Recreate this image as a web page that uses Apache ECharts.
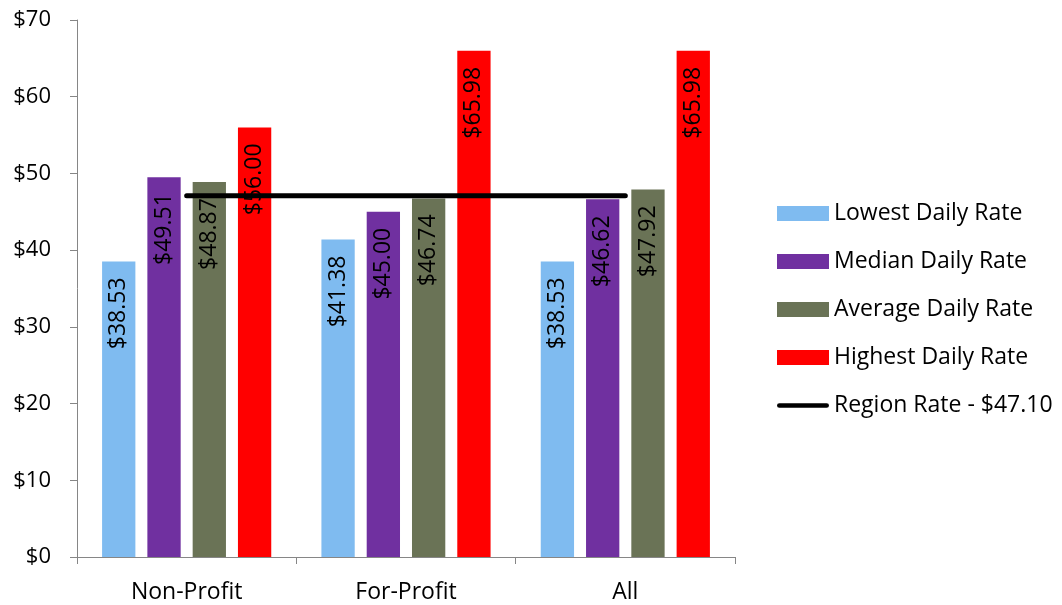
<!DOCTYPE html>
<html>
<head>
<meta charset="utf-8">
<script src="https://cdn.jsdelivr.net/npm/echarts@6/dist/echarts.min.js"></script>
<style>
  html, body { margin: 0; padding: 0; background: #fff; }
  #chart { width: 1062px; height: 605px; }
</style>
</head>
<body>
<div id="chart"></div>
<script>
// Daily rates by facility type
const categories = ['Non-Profit', 'For-Profit', 'All'];
const lowestRate  = [38.53, 41.38, 38.53];
const medianRate  = [49.51, 45.00, 46.62];
const averageRate = [48.87, 46.74, 47.92];
const highestRate = [56.00, 65.98, 65.98];
const regionRate  = [47.10, 47.10, 47.10];
const regionLabel = 'Region Rate - $47.10';

const FONT = '"Open Sans", "Liberation Sans", sans-serif';
const money = v => '$' + Number(v).toFixed(2);

// thick rounded stroke used as the legend marker of the region line
const LINE_ICON = 'path://M2.5,0 L52.5,0 A2.5,2.5 0 0 1 52.5,5 L2.5,5 A2.5,2.5 0 0 1 2.5,0 Z';

function barSeries(name, data, color) {
  return {
    name: name,
    type: 'bar',
    data: data,
    barWidth: 33.3,
    barGap: '36%',
    z: 2,
    itemStyle: { color: color },
    label: {
      show: true,
      position: 'insideTop',
      distance: 16,
      rotate: 90,
      align: 'right',
      verticalAlign: 'middle',
      color: '#000',
      fontFamily: FONT,
      fontSize: 23,
      formatter: p => money(p.value)
    }
  };
}

const chart = echarts.init(document.getElementById('chart'), null, { renderer: 'canvas' });
chart.setOption({
  animation: false,
  backgroundColor: '#fff',
  textStyle: { fontFamily: FONT },
  grid: { left: 77, right: 327, top: 20, bottom: 48 },
  legend: {
    orient: 'vertical',
    left: 772,
    top: 197,
    itemWidth: 52,
    itemHeight: 15,
    itemGap: 25,
    textStyle: { fontFamily: FONT, fontSize: 23, color: '#000', lineHeight: 23 },
    data: [
      { name: 'Lowest Daily Rate', icon: 'rect' },
      { name: 'Median Daily Rate', icon: 'rect' },
      { name: 'Average Daily Rate', icon: 'rect' },
      { name: 'Highest Daily Rate', icon: 'rect' },
      { name: regionLabel, icon: LINE_ICON, itemStyle: { color: '#000', borderWidth: 0 } }
    ]
  },
  xAxis: {
    type: 'category',
    data: categories,
    axisLine: { lineStyle: { color: '#868686', width: 1 } },
    axisTick: { show: true, length: 7, lineStyle: { color: '#868686' } },
    axisLabel: { color: '#000', fontFamily: FONT, fontSize: 23, margin: 24 }
  },
  yAxis: {
    type: 'value',
    min: 0,
    max: 70,
    interval: 10,
    splitLine: { show: false },
    axisLine: { show: true, lineStyle: { color: '#868686', width: 1 } },
    axisTick: { show: true, length: 7, lineStyle: { color: '#868686' } },
    axisLabel: { color: '#000', fontFamily: FONT, fontSize: 22, margin: 26, formatter: v => '$' + v }
  },
  series: [
    barSeries('Lowest Daily Rate', lowestRate, '#7FBBF0'),
    barSeries('Median Daily Rate', medianRate, '#7030A0'),
    barSeries('Average Daily Rate', averageRate, '#6A7356'),
    barSeries('Highest Daily Rate', highestRate, '#FF0000'),
    {
      name: regionLabel,
      type: 'line',
      data: regionRate,
      symbol: 'none',
      z: 10,
      itemStyle: { color: '#000' },
      lineStyle: { color: '#000', width: 5, cap: 'round' }
    }
  ]
});
</script>
</body>
</html>
